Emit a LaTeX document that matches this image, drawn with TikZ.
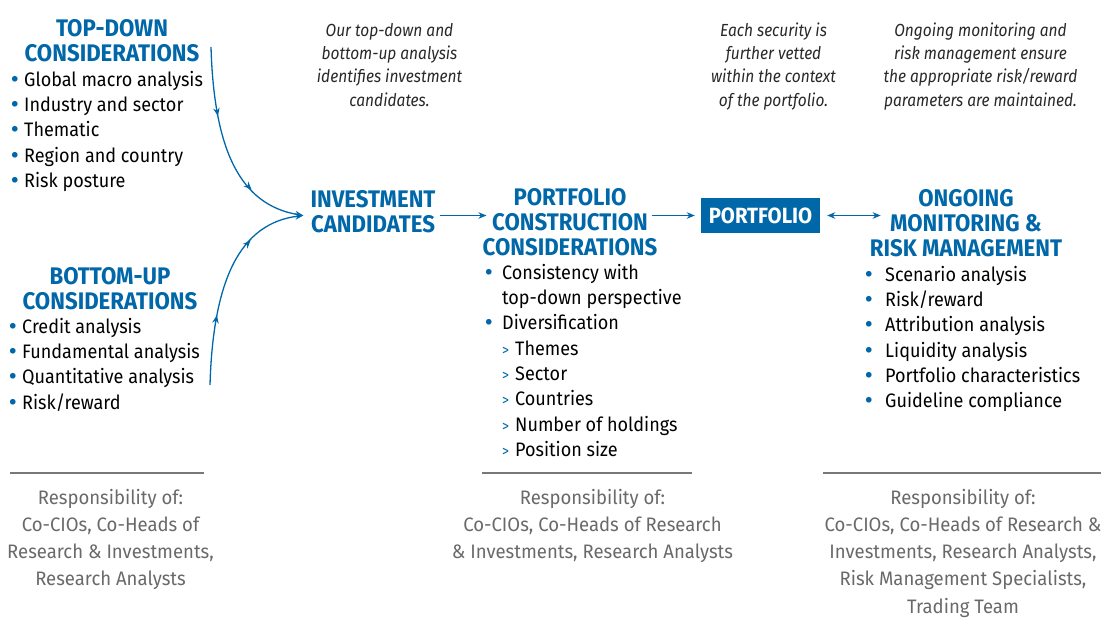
\documentclass[tikz,border=0pt]{standalone}
\usepackage{fontspec}
\setmainfont[FakeStretch=0.925]{Fira Sans}
\newfontfamily\notef[FakeStretch=0.885]{Fira Sans}
\newfontfamily\respf[FakeStretch=0.95]{Fira Sans}
\newfontfamily\dotf{DejaVu Sans}
\usetikzlibrary{arrows.meta,decorations.markings}
\definecolor{tblue}{RGB}{0,103,169}
\definecolor{tgray}{RGB}{105,105,108}
\definecolor{tdark}{RGB}{40,40,40}
\definecolor{tline}{RGB}{120,120,120}
\newcommand\tstrut{\rule{0pt}{0.8em}}
\newcommand\bul[1]{\makebox[#1][l]{\textcolor{tblue}{\dotf •}}}
\newcommand\subb{\hspace*{19pt}\makebox[13pt][l]{\textcolor{tblue}{\fontsize{15}{15}\selectfont >}}}
\tikzset{
  heading/.style={font=\fontsize{24}{25}\selectfont\bfseries, text=tblue, align=center, inner sep=0pt, anchor=north},
  body/.style={font=\fontsize{19.5}{25.3}\selectfont, text=black, align=left, inner sep=0pt, anchor=north west},
  note/.style={font=\notef\fontsize{17.5}{23.3}\selectfont\itshape, text=tdark, align=center, inner sep=0pt, anchor=north},
  resp/.style={font=\respf\fontsize{19.5}{27.2}\selectfont, text=tgray, align=center, inner sep=0pt, anchor=north},
  tip/.tip={Stealth[length=8pt,width=6.5pt,inset=2.5pt]},
  arr/.style={draw=tblue, line width=1.3pt, -tip},
  flow/.style={draw=tblue, line width=1.3pt, -tip, postaction={decorate},
    decoration={markings, mark=at position 0.33 with {\arrow[tblue]{tip}}, mark=at position 0.72 with {\arrow[tblue]{tip}}}},
  rule/.style={draw=tline, line width=1.2pt}
}
\begin{document}
\begin{tikzpicture}[x=1pt,y=-1pt]
\useasboundingbox (0,0) rectangle (1101,619);
% top-down
\node[heading] (tdh) at (112,16.8) {\tstrut TOP-DOWN\\CONSIDERATIONS};
\node[body] (tdl) at (9,70.4) {\tstrut\bul{15pt}Global macro analysis\\\bul{15pt}Industry and sector\\\bul{15pt}Thematic\\\bul{15pt}Region and country\\\bul{15pt}Risk posture};
% bottom-up
\node[heading] (buh) at (110,264.8) {\tstrut BOTTOM-UP\\CONSIDERATIONS};
\node[body] (bul) at (7,317.4) {\tstrut\bul{15pt}Credit analysis\\\bul{15pt}Fundamental analysis\\\bul{15pt}Quantitative analysis\\\bul{15pt}Risk/reward};
% notes
\node[note] (n1) at (389.5,22) {\tstrut Our top-down and\\bottom-up analysis\\identifies investment\\candidates.};
\node[note] (n2) at (773.5,22) {\tstrut Each security is\\further vetted\\within the context\\of the portfolio.};
\node[note] (n3) at (980.5,22) {\tstrut Ongoing monitoring and\\risk management ensure\\the appropriate risk/reward\\parameters are maintained.};
% investment candidates
\node[heading, inner xsep=4pt] (ic) at (373,187.8) {\tstrut INVESTMENT\\CANDIDATES};
% portfolio construction
\node[heading] (pcc) at (570,185.8) {\tstrut PORTFOLIO\\CONSTRUCTION\\CONSIDERATIONS};
\node[body] (pcl) at (483,263.4) {\tstrut\bul{19pt}Consistency with\\\hspace*{19pt}top-down perspective\\\bul{19pt}Diversification\\\subb Themes\\\subb Sector\\\subb Countries\\\subb Number of holdings\\\subb Position size};
% portfolio box
\node[fill=tblue, text=white, font=\fontsize{22}{22}\selectfont\bfseries, minimum width=119pt, minimum height=35pt, inner sep=0pt] (pf) at (760.5,215.5) {PORTFOLIO};
% ongoing
\node[heading] (og) at (966,186.8) {\tstrut ONGOING\\MONITORING \&\\RISK MANAGEMENT};
\node[body] (ogl) at (863,265.4) {\tstrut\bul{22pt}Scenario analysis\\\bul{22pt}Risk/reward\\\bul{22pt}Attribution analysis\\\bul{22pt}Liquidity analysis\\\bul{22pt}Portfolio characteristics\\\bul{22pt}Guideline compliance};
% responsibilities
\draw[rule] (10,473) -- (204,473);
\draw[rule] (482,473) -- (692,473);
\draw[rule] (823,473) -- (1101,473);
\node[resp] (r1) at (110.5,488.4) {\tstrut Responsibility of:\\Co-CIOs, Co-Heads of\\Research \& Investments,\\Research Analysts};
\node[resp] (r2) at (592.5,488.4) {\tstrut Responsibility of:\\Co-CIOs, Co-Heads of Research\\\& Investments, Research Analysts};
\node[resp] (r3) at (963,488.4) {\tstrut Responsibility of:\\Co-CIOs, Co-Heads of Research \&\\Investments, Research Analysts,\\Risk Management Specialists,\\Trading Team};
% connectors
\coordinate (tds) at (211,47);
\coordinate (bus) at (210,385);
\draw[flow] (tds) .. controls (214,150) and (240,205) .. ([xshift=-3pt]ic.west |- pf.west);
\draw[flow] (bus) .. controls (213,280) and (240,223) .. ([xshift=-3pt]ic.west |- pf.west);
\draw[arr] (ic.east |- pf.west) -- ([xshift=4pt]pcc.west |- pf.west);
\draw[arr] ([xshift=-6pt]pcc.east |- pf.west) -- ([xshift=-6pt]pf.west);
\draw[arr, tip-tip] ([xshift=7pt]pf.east) -- ([xshift=11pt]og.west |- pf.east);
\end{tikzpicture}
\end{document}
